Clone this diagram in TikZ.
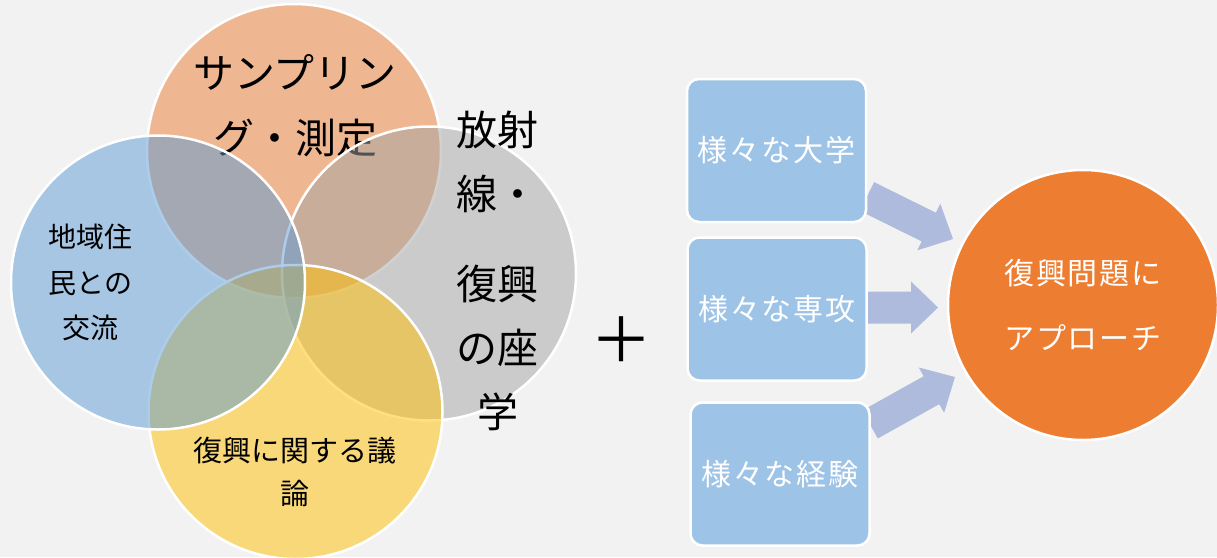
\documentclass[tikz,border=0pt]{standalone}
\usepackage{fontspec}
\newfontfamily\jp{Noto Sans CJK JP}
\newfontfamily\jpw[LetterSpace=6]{Noto Sans CJK JP}
\usetikzlibrary{calc}
\definecolor{bg}{HTML}{F2F2F2}
\definecolor{vorange}{HTML}{ED7D31}
\definecolor{vgray}{HTML}{A5A5A5}
\definecolor{vyellow}{HTML}{FFC000}
\definecolor{vblue}{HTML}{5B9BD5}
\definecolor{boxblue}{HTML}{9DC3E6}
\definecolor{arrowblue}{HTML}{AEBBDD}
\definecolor{goalorange}{HTML}{ED7D31}
\newcommand\blockarrow[2]{%
  \coordinate (hb) at ($(#2)!27pt!(#1)$);
  \fill[arrowblue] ($(#1)!16pt!90:(#2)$) -- ($(hb)!16pt!90:(#2)$) -- ($(hb)!26pt!90:(#2)$) -- (#2)
    -- ($(hb)!26pt!-90:(#2)$) -- ($(hb)!16pt!-90:(#2)$) -- ($(#1)!16pt!-90:(#2)$) -- cycle;
}
\begin{document}
\begin{tikzpicture}[x=1pt,y=-1pt,
  venn/.style={circle, minimum size=294pt, inner sep=0pt, fill=#1, fill opacity=0.5, draw=white, draw opacity=1, line width=2.5pt},
  vtext/.style={font=\jp, align=center, text=black, inner sep=0pt},
  ibox/.style={rectangle, rounded corners=12pt, minimum width=179pt, minimum height=143pt, fill=boxblue, draw=white, line width=2.5pt, font=\jpw\fontsize{30}{30}\selectfont, text=white},
  goal/.style={circle, minimum size=270pt, inner sep=0pt, fill=goalorange, draw=white, line width=2.5pt, font=\jpw\fontsize{30}{65}\selectfont, text=white, align=center}]
\useasboundingbox (0,0) rectangle (1217,557);
\fill[bg] (0,0) rectangle (1217,557);
% Venn
\node[venn=vorange] (samp) at (294,151) {};
\node[vtext, font=\jp\fontsize{41}{65}\selectfont] (samptxt) at (295,105.5) {サンプリン\\グ・測定};
\node[venn=vgray] (rad) at (429,273.5) {};
\node[vtext, font=\jp\fontsize{41}{64}\selectfont] (radtxt) at (497.5,271) {放射\\線・\\[26pt]復興\\の座\\学};
\node[venn=vyellow] (disc) at (295.5,412) {};
\node[vtext, font=\jp\fontsize{29}{43}\selectfont] (disctxt) at (295,471.5) {復興に関する議\\論};
\node[venn=vblue] (res) at (158,282.5) {};
\node[vtext, font=\jp\fontsize{28}{45.5}\selectfont] (restxt) at (90.5,282.5) {地域住\\民との\\交流};
% plus
\node[font=\jp\fontsize{62}{62}\selectfont, inner sep=0pt] (plus) at (621,340) {＋};
% arrows
\coordinate (s1) at (867,196.5);
\coordinate (t1) at (953,239);
\coordinate (s2) at (867,307.5);
\coordinate (t2) at (938,307.5);
\coordinate (s3) at (870,424.5);
\coordinate (t3) at (955,377);
\blockarrow{s1}{t1}
\blockarrow{s2}{t2}
\blockarrow{s3}{t3}
% boxes
\node[ibox] (univ) at (776.5,150.5) {様々な大学};
\node[ibox] (major) at (777,309) {様々な専攻};
\node[ibox] (exp) at (780,474) {様々な経験};
% goal
\node[goal] (goal) at (1083,305) {復興問題に\\アプローチ};
\end{tikzpicture}
\end{document}
